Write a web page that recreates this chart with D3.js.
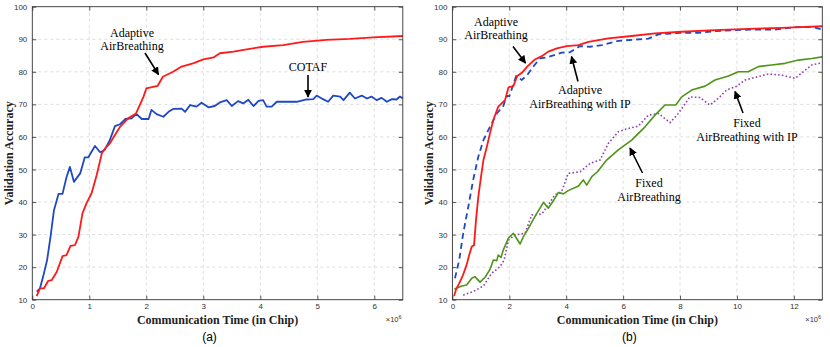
<!DOCTYPE html>
<html>
<head>
<meta charset="utf-8">
<script src="https://cdn.jsdelivr.net/npm/d3@7"></script>
<style>
  body { margin: 0; background: #fff; }
  svg { display: block; }
  .tick text { font-family: "Liberation Sans", Arial, sans-serif; font-size: 8px; fill: #333; }
  .annot { font-family: "Liberation Serif", "Times New Roman", serif; font-size: 12px; fill: #000; }
  .axlabel { font-family: "Liberation Serif", "Times New Roman", serif; font-size: 12px; font-weight: bold; fill: #222; }
  .cap { font-family: "Liberation Sans", Arial, sans-serif; font-size: 12px; fill: #000; }
</style>
</head>
<body>
<svg id="chart" width="830" height="347"></svg>
<script>
// (a) Adaptive AirBreathing vs COTAF, time in units of 1e6 chips
var adaptA = [[0.077,11.1],[0.135,13.5],[0.205,13.5],[0.28,15.8],[0.34,16],[0.43,18.6],[0.53,23.4],[0.6,23.7],
  [0.67,26.5],[0.75,26.8],[0.81,29.4],[0.88,36.5],[0.95,39.6],[1.04,42.7],[1.13,48.3],[1.22,55],[1.28,56.5],
  [1.36,58],[1.45,60.6],[1.54,63.1],[1.68,65.7],[1.82,67.2],[1.95,72.3],[2.0,74.9],[2.12,75.4],[2.2,75.7],
  [2.29,78.5],[2.47,80],[2.62,81.6],[2.82,82.6],[3.0,83.8],[3.18,84.4],[3.29,85.7],[3.53,86.2],[3.76,86.9],
  [4.05,87.7],[4.4,88.2],[4.75,89.2],[5.16,89.8],[5.57,90.1],[5.98,90.6],[6.5,91.0]];
var cotaf = [[0.077,12.5],[0.135,13.5],[0.19,17.1],[0.26,22.2],[0.32,29.4],[0.38,37.5],[0.46,42.5],[0.53,42.5],
  [0.6,47.6],[0.66,50.8],[0.73,46.2],[0.84,48.8],[0.92,53.7],[0.98,53.7],[1.1,57.2],[1.19,55.3],[1.27,56],
  [1.36,59],[1.45,63.3],[1.54,63.9],[1.63,65.5],[1.74,65.7],[1.83,67.0],[1.92,65.5],[2.04,65.5],[2.09,68.3],
  [2.18,67],[2.3,66.2],[2.39,67.7],[2.47,68.6],[2.62,68.7],[2.68,67.7],[2.77,69.8],[2.88,69.3],[2.97,70.5],
  [3.09,69.1],[3.2,69.5],[3.29,70.6],[3.41,71.3],[3.5,69.5],[3.61,71],[3.7,70.3],[3.79,71.4],[3.88,69.5],
  [3.97,71.1],[4.05,71.3],[4.11,69.3],[4.2,69.3],[4.29,70.8],[4.46,70.8],[4.64,70.8],[4.81,71.5],[4.93,71.6],
  [4.99,72.7],[5.1,71.6],[5.19,70.8],[5.28,72.7],[5.4,72.4],[5.46,71.3],[5.57,73.6],[5.66,71.8],[5.78,72.7],
  [5.87,71.8],[5.95,72.4],[6.04,71.3],[6.13,72],[6.22,70.8],[6.31,71.6],[6.39,71.5],[6.45,72.4],[6.5,71.8]];

// (b) four schemes
var adaptB = [[0.06,11.1],[0.13,13.2],[0.24,15],[0.36,17.3],[0.5,20.7],[0.59,23.7],[0.68,26.3],[0.76,26.7],
  [0.83,34.5],[0.91,41.6],[0.99,46.8],[1.09,52.9],[1.21,57],[1.32,61.1],[1.44,65.2],[1.61,69.3],[1.85,71.3],
  [1.97,75.2],[2.14,75.6],[2.28,78.7],[2.44,79.7],[2.63,81.6],[2.9,83.8],[3.14,84.8],[3.37,86.2],[3.67,87.2],
  [4.02,87.9],[4.43,88.2],[4.78,89.2],[5.48,90.3],[6.3,91],[7.12,91.8],[8.06,92.3],[9.23,92.8],[10.4,93.2],
  [11.57,93.5],[13,94]];
var adaptIP = [[0.09,16.6],[0.24,22.2],[0.38,30.4],[0.56,38.6],[0.73,46.8],[0.91,53.9],[1.09,59],[1.32,63.1],
  [1.56,67.2],[1.79,69.5],[1.91,72.6],[2.0,72.5],[2.24,78.7],[2.44,77.5],[2.63,79],[2.84,81.6],[3.08,84.1],
  [3.31,84.4],[3.61,85.2],[3.84,85.9],[4.13,86.0],[4.49,87.9],[4.84,87.7],[5.25,88.2],[5.83,89.5],[6.42,89.9],
  [6.89,90.2],[7.24,91.5],[8.06,92],[8.65,92],[9.23,92.5],[9.93,92.8],[10.75,93],[11.34,93],[12.04,93.7],
  [12.63,93.8],[13,93]];
var fixedAB = [[0.07,13.3],[0.33,14.2],[0.5,14.5],[0.68,16.6],[0.79,17.1],[0.97,15.4],[1.15,16.9],[1.32,19.3],
  [1.44,22.2],[1.56,22],[1.61,23.7],[1.71,23],[1.79,25.3],[1.97,28.9],[2.14,30.4],[2.38,27.1],[2.49,29.3],
  [2.67,31.9],[2.9,35.5],[3.2,39.9],[3.37,38.1],[3.58,40.8],[3.72,42.9],[3.9,42.5],[4.07,43.5],[4.43,44.9],
  [4.6,46.8],[4.72,45.2],[4.9,47.8],[5.1,49.3],[5.42,52.9],[5.83,56],[6.3,59],[6.77,63.1],[7.12,66.7],
  [7.47,69.8],[7.85,69.8],[8.06,72.3],[8.41,74.4],[8.88,75.6],[9.23,77.5],[9.7,78.7],[10.05,80],[10.4,80],
  [10.75,81.6],[11.22,82.1],[11.69,82.6],[12.16,83.6],[12.63,84.1],[13,84.6]];
var fixedIP = [[0.38,11.4],[0.73,12.5],[1.09,14.2],[1.38,18.1],[1.67,20.1],[1.82,22.2],[1.97,28.3],[2.2,29.9],
  [2.55,30.4],[2.79,36],[3.14,36.3],[3.37,39.1],[3.6,42.2],[3.84,43.2],[4.07,48.8],[4.49,49.3],[4.84,51.9],
  [5.19,52.9],[5.48,58],[5.83,61.6],[6.18,62.6],[6.53,63.3],[6.89,66.7],[7.24,67.2],[7.65,64.4],[7.94,67.2],
  [8.35,72.3],[8.7,72.1],[9.05,69.8],[9.35,71.9],[9.64,74.4],[9.99,75.6],[10.29,77.5],[10.64,78.3],[11.1,79.3],
  [11.57,79],[12.04,78],[12.33,80],[12.63,82.1],[13,82.8]];

var yTicks = [10,20,30,40,50,60,70,80,90,100];
var xTicksA = [0,1,2,3,4,5,6];
var xTicksB = [0,2,4,6,8,10,12];

var svg = d3.select("#chart");

svg.append("defs").append("marker")
    .attr("id","arr").attr("viewBox","0 0 10 10")
    .attr("refX",9).attr("refY",5)
    .attr("markerWidth",5).attr("markerHeight",5)
    .attr("orient","auto")
  .append("path").attr("d","M0,0 L10,5 L0,10 z").attr("fill","#000");

function panel(left, right, xmax, xticks, series, notes, cap)
{
    var top = 6.7, bottom = 299.7;
    var x = d3.scaleLinear().domain([0, xmax]).range([left, right]);
    var y = d3.scaleLinear().domain([10, 100]).range([bottom, top]);
    var g = svg.append("g");

    //grid
    g.selectAll(".gx").data(xticks.slice(1)).enter().append("line")
        .attr("x1", x).attr("x2", x).attr("y1", top).attr("y2", bottom)
        .attr("stroke","#d4d4d4").attr("stroke-dasharray","3,3").attr("stroke-width",0.8);
    g.selectAll(".gy").data(yTicks.slice(1, -1)).enter().append("line")
        .attr("y1", y).attr("y2", y).attr("x1", left).attr("x2", right)
        .attr("stroke","#d4d4d4").attr("stroke-dasharray","3,3").attr("stroke-width",0.8);

    //lines
    series.forEach(function(s){
        g.append("path").datum(s.data)
            .attr("d", d3.line().x(function(d){ return x(d[0]); }).y(function(d){ return y(d[1]); }))
            .attr("fill","none").attr("stroke", s.color).attr("stroke-width", s.w)
            .attr("stroke-dasharray", s.dash || null)
            .attr("stroke-linejoin","round");
    });

    //axes, ticks inside like matlab
    g.append("g").attr("transform","translate(0," + bottom + ")")
        .call(d3.axisBottom(x).tickValues(xticks).tickSize(-4).tickPadding(4).tickFormat(d3.format("d")));
    g.append("g").attr("transform","translate(" + left + ",0)")
        .call(d3.axisLeft(y).tickValues(yTicks).tickSize(-4).tickPadding(5));
    g.append("g").attr("transform","translate(0," + top + ")")
        .call(d3.axisTop(x).tickValues(xticks).tickSize(-4).tickFormat(""));
    g.append("g").attr("transform","translate(" + right + ",0)")
        .call(d3.axisRight(y).tickValues(yTicks).tickSize(-4).tickFormat(""));
    g.selectAll(".domain").remove();
    g.selectAll(".tick line").attr("stroke","#333").attr("stroke-width",0.8);
    g.append("rect").attr("x", left).attr("y", top).attr("width", right - left).attr("height", bottom - top)
        .attr("fill","none").attr("stroke","#333").attr("stroke-width",0.9);

    //axis labels
    g.append("text").attr("class","axlabel").attr("x",(left + right) / 2).attr("y",323.5)
        .attr("text-anchor","middle").text("Communication Time (in Chip)");
    g.append("text").attr("class","axlabel")
        .attr("transform","translate(" + (left - 19) + "," + ((top + bottom) / 2) + ") rotate(-90)")
        .attr("text-anchor","middle").text("Validation Accuracy");
    var mult = g.append("text").attr("x", right - 17).attr("y", 322)
        .attr("font-family","Liberation Sans, Arial, sans-serif").attr("font-size","7.5px").attr("fill","#333");
    mult.append("tspan").text("\u00d710");
    mult.append("tspan").attr("dy",-3).attr("font-size","5.5px").text("6");
    g.append("text").attr("class","cap").attr("x",(left + right) / 2 - 8).attr("y",341)
        .attr("text-anchor","middle").text(cap);

    //annotations
    notes.forEach(function(n){
        var t = g.append("text").attr("class","annot").attr("text-anchor","middle");
        n.lines.forEach(function(l, i){
            t.append("tspan").attr("x", n.tx).attr("y", n.ty + i * 13.5).text(l);
        });
        g.append("line").attr("x1", n.a[0]).attr("y1", n.a[1]).attr("x2", n.a[2]).attr("y2", n.a[3])
            .attr("stroke","#000").attr("stroke-width",1.6).attr("marker-end","url(#arr)");
    });
}

panel(32.3, 402.8, 6.5, xTicksA, [
    {data: cotaf, color:"#1f48c4", w:1.8},
    {data: adaptA, color:"#ff1a1a", w:1.8}
], [
    {lines:["Adaptive","AirBreathing"], tx:132, ty:36.5, a:[145,53,158.5,74.5]},
    {lines:["COTAF"], tx:308, ty:71, a:[308,75,308,97]}
], "(a)");

panel(452.4, 822.3, 13, xTicksB, [
    {data: fixedIP, color:"#9040b0", w:1.6, dash:"1.6,2.2"},
    {data: fixedAB, color:"#4e9418", w:1.6},
    {data: adaptIP, color:"#1f48c4", w:1.8, dash:"6,4"},
    {data: adaptB, color:"#ff1a1a", w:1.8}
], [
    {lines:["Adaptive","AirBreathing"], tx:496, ty:25.5, a:[513,46.5,525.5,63]},
    {lines:["Adaptive","AirBreathing with IP"], tx:580, ty:94, a:[578,81.5,571.5,56.5]},
    {lines:["Fixed","AirBreathing with IP"], tx:747, ty:127, a:[743,113,735,91.5]},
    {lines:["Fixed","AirBreathing"], tx:649, ty:187, a:[642.5,173,630,148]}
], "(b)");
</script>
</body>
</html>
